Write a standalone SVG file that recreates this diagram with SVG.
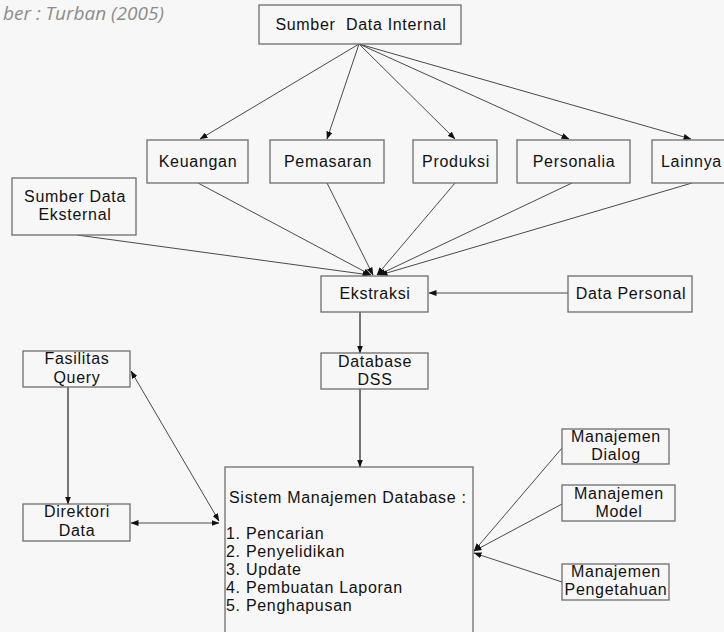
<svg xmlns="http://www.w3.org/2000/svg" width="724" height="632" viewBox="0 0 724 632">
<defs>
<style>
.bg{fill:#f7f7f7}
.box{fill:#f7f7f7;stroke:#6e6e6e;stroke-width:1.3}
.t{font-family:"Liberation Sans",Arial,sans-serif;font-size:16px;letter-spacing:0.7px;fill:#111;white-space:pre}
.m{text-anchor:middle}
.c{stroke:#4a4a4a;stroke-width:1;fill:none}
.c2{stroke:#555;stroke-width:1.6;fill:none}
.cap{font-family:"Open Sans","Noto Sans",sans-serif;font-style:italic;font-size:19px;fill:#8c8c8c}
</style>
<marker id="ah" markerUnits="userSpaceOnUse" markerWidth="8" markerHeight="6" refX="7.5" refY="3" orient="auto-start-reverse" viewBox="0 0 8 6">
<path d="M0,0 L8,3 L0,6 z" fill="#111"/>
</marker>
</defs>
<rect class="bg" x="0" y="0" width="724" height="632"/>
<text class="cap" x="3" y="20">ber : Turban (2005)</text>

<g id="connectors">
<line class="c" x1="359" y1="44" x2="200" y2="139" marker-end="url(#ah)"/>
<line class="c" x1="359" y1="44" x2="327" y2="139" marker-end="url(#ah)"/>
<line class="c" x1="359" y1="44" x2="455" y2="139" marker-end="url(#ah)"/>
<line class="c" x1="359" y1="44" x2="569" y2="139" marker-end="url(#ah)"/>
<line class="c" x1="359" y1="44" x2="691" y2="139" marker-end="url(#ah)"/>
<line class="c" x1="77" y1="235" x2="370" y2="275" marker-end="url(#ah)"/>
<line class="c" x1="198" y1="183" x2="371" y2="275" marker-end="url(#ah)"/>
<line class="c" x1="327" y1="183" x2="373" y2="275" marker-end="url(#ah)"/>
<line class="c" x1="455" y1="183" x2="377" y2="275" marker-end="url(#ah)"/>
<line class="c" x1="572" y1="183" x2="378" y2="275" marker-end="url(#ah)"/>
<line class="c" x1="692" y1="183" x2="380" y2="275" marker-end="url(#ah)"/>
<line class="c" x1="568" y1="293" x2="429" y2="293" marker-end="url(#ah)"/>
<line class="c2" x1="360" y1="312" x2="360" y2="353" marker-end="url(#ah)"/>
<line class="c2" x1="360" y1="389" x2="360" y2="467" marker-end="url(#ah)"/>
<line class="c2" x1="68" y1="387" x2="68" y2="504" marker-end="url(#ah)"/>
<line class="c" x1="131" y1="523" x2="219" y2="523" marker-start="url(#ah)" marker-end="url(#ah)"/>
<line class="c" x1="131" y1="371" x2="219" y2="521" marker-start="url(#ah)" marker-end="url(#ah)"/>
<line class="c" x1="562" y1="448" x2="474" y2="551" marker-end="url(#ah)"/>
<line class="c" x1="562" y1="504" x2="474" y2="551" marker-end="url(#ah)"/>
<line class="c" x1="562" y1="582" x2="474" y2="553" marker-end="url(#ah)"/>
</g>

<g id="n-internal"><rect class="box" x="259" y="5" width="202" height="39"/><text class="t m" x="361" y="30">Sumber  Data Internal</text></g>
<g id="n-keuangan"><rect class="box" x="147" y="140" width="101" height="43"/><text class="t m" x="198" y="167">Keuangan</text></g>
<g id="n-pemasaran"><rect class="box" x="270" y="140" width="114" height="43"/><text class="t m" x="328" y="167">Pemasaran</text></g>
<g id="n-produksi"><rect class="box" x="413" y="140" width="84" height="43"/><text class="t m" x="456" y="167">Produksi</text></g>
<g id="n-personalia"><rect class="box" x="517" y="140" width="113" height="43"/><text class="t m" x="574" y="167">Personalia</text></g>
<g id="n-lainnya"><rect class="box" x="652" y="140" width="80" height="43"/><text class="t" x="661" y="167">Lainnya</text></g>
<g id="n-eksternal"><rect class="box" x="12" y="178" width="124" height="57"/><text class="t m" x="75" y="202">Sumber Data</text><text class="t m" x="75" y="220">Eksternal</text></g>
<g id="n-ekstraksi"><rect class="box" x="321" y="276" width="107" height="36"/><text class="t m" x="375" y="299">Ekstraksi</text></g>
<g id="n-personal"><rect class="box" x="568" y="276" width="124" height="36"/><text class="t m" x="631" y="299">Data Personal</text></g>
<g id="n-dbdss"><rect class="box" x="321" y="353" width="107" height="36"/><text class="t m" x="375" y="367">Database</text><text class="t m" x="375" y="385">DSS</text></g>
<g id="n-fasilitas"><rect class="box" x="23" y="351" width="107" height="36"/><text class="t m" x="77" y="364">Fasilitas</text><text class="t m" x="77" y="383">Query</text></g>
<g id="n-direktori"><rect class="box" x="23" y="504" width="107" height="37"/><text class="t m" x="77" y="517">Direktori</text><text class="t m" x="77" y="536">Data</text></g>
<g id="n-sistem"><rect class="box" x="225" y="467" width="248" height="172"/>
<text class="t" x="229" y="503">Sistem Manajemen Database :</text>
<text class="t" x="226" y="539">1. Pencarian</text>
<text class="t" x="226" y="557">2. Penyelidikan</text>
<text class="t" x="226" y="575">3. Update</text>
<text class="t" x="226" y="593">4. Pembuatan Laporan</text>
<text class="t" x="226" y="611">5. Penghapusan</text></g>
<g id="n-dialog"><rect class="box" x="562" y="429" width="107" height="35"/><text class="t m" x="616" y="442">Manajemen</text><text class="t m" x="616" y="460">Dialog</text></g>
<g id="n-model"><rect class="box" x="562" y="485" width="113" height="36"/><text class="t m" x="619" y="499">Manajemen</text><text class="t m" x="619" y="517">Model</text></g>
<g id="n-pengetahuan"><rect class="box" x="562" y="564" width="107" height="36"/><text class="t m" x="616" y="577">Manajemen</text><text class="t m" x="616" y="595">Pengetahuan</text></g>
</svg>
